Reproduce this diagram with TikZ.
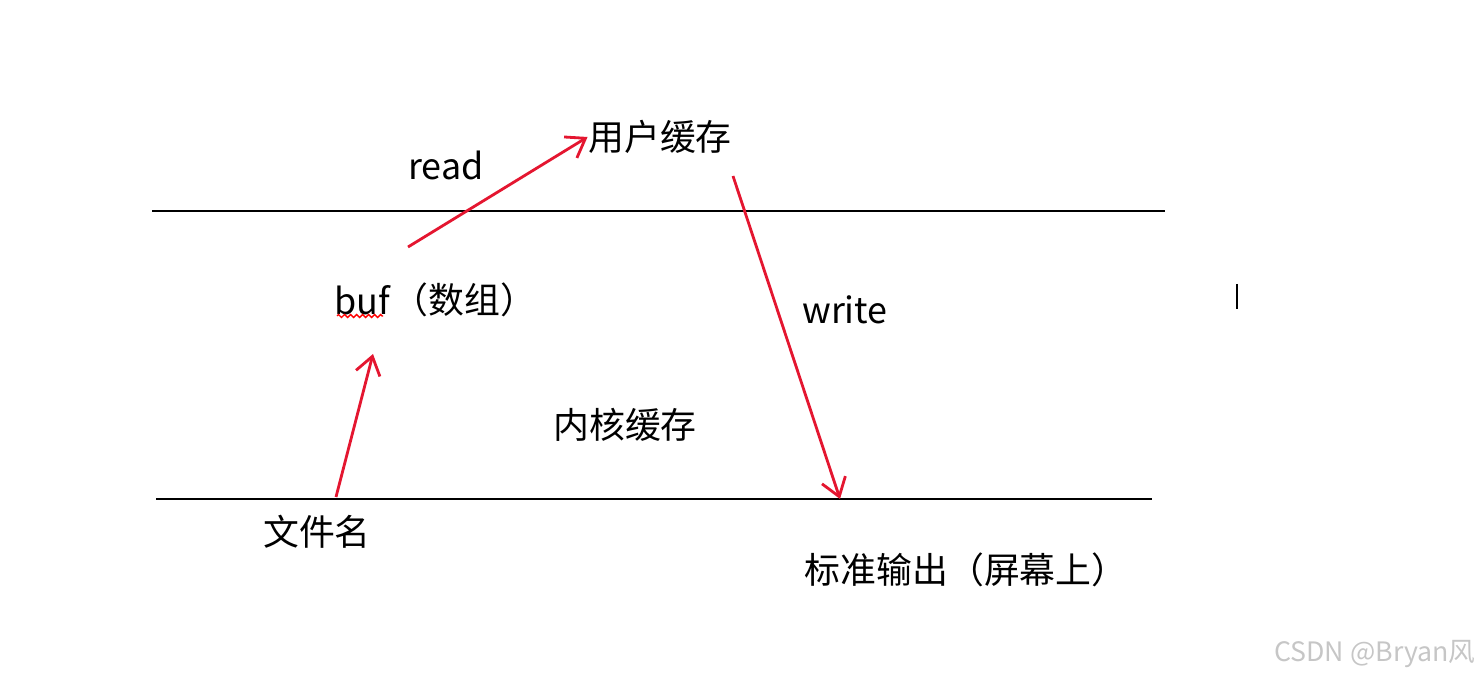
\documentclass[tikz,border=0pt]{standalone}
\usepackage{fontspec}
\setmainfont{Noto Sans CJK SC}
\usetikzlibrary{arrows.meta,positioning,decorations.pathmorphing}
\definecolor{flowred}{RGB}{228,22,48}
\begin{document}
\begin{tikzpicture}[x=0.01cm,y=-0.01cm,
  every node/.style={font=\fontsize{10.2}{12}\selectfont,inner sep=0pt},
  layer/.style={line width=0.85pt,black},
  flow/.style={line width=0.8pt,flowred,-{Straight Barb[length=5pt,width=7pt,line width=0.8pt]}}]
\useasboundingbox (0,0) rectangle (1481,679);
% the two boundaries: user space above, kernel space between
\coordinate (upL) at (152,211);
\coordinate (upR) at (1165,211);
\coordinate (dnL) at (156,499);
\coordinate (dnR) at (1152,499);
\draw[layer] (upL) -- (upR);
\draw[layer] (dnL) -- (dnR);
% labels
\node (ucache) at (660,137) {用户缓存};
\node (rd) at (446,165) {read};
\node (buf) at (362,300) {buf};
\node[anchor=west] (bufnote) at (392,300) {（数组）};
\node (kcache) at (625,425) {内核缓存};
\node (wr) at (845,310) {write};
\node (fname) at (317,532) {文件名};
\node[anchor=west] (stdout) at (804,570) {标准输出（屏幕上）};
% spell-check mark under buf
\draw[red,line width=0.4pt,decorate,decoration={zigzag,segment length=0.06cm,amplitude=0.015cm}]
  (337,316) -- (383,316);
% text cursor
\coordinate (curT) at (1237,284);
\coordinate (curB) at (1237,309);
\draw[line width=0.6pt] (curT) -- (curB);
% data flow
\coordinate (fromFile) at (336,497);
\coordinate (toBuf) at (373,354);
\coordinate (fromBuf) at (408,247);
\coordinate (fromUser) at (733,176);
\coordinate (toOut) at (840,499);
\draw[flow] (fromFile) -- (toBuf);
\draw[flow] (fromBuf) -- (ucache.west);
\draw[flow] (fromUser) -- (toOut);
% watermark
\node[font=\fontsize{7.6}{9}\selectfont,text=gray!45] (mark) at (1375,654) {CSDN @Bryan风};
\end{tikzpicture}
\end{document}
